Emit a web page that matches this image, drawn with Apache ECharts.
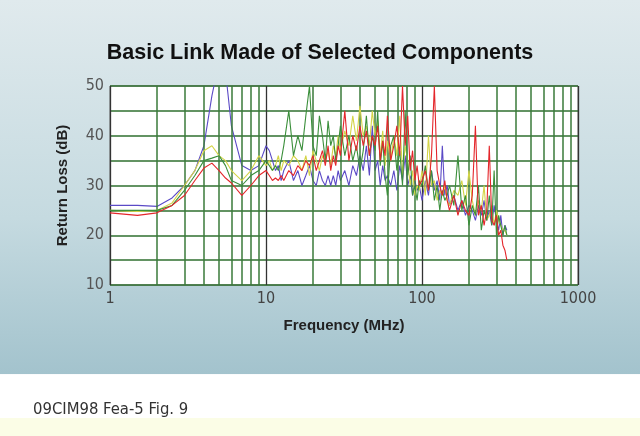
<!DOCTYPE html>
<html><head><meta charset="utf-8">
<script src="https://cdn.jsdelivr.net/npm/echarts@6/dist/echarts.min.js"></script>
<style>html,body{margin:0;padding:0;background:#fff}#c{width:640px;height:436px}</style>
</head><body><div id="c"></div>
<script>
const freq = [1,1.5,2,2.5,3,3.5,4,4.5,5,5.5,6,7,8,9,
  10,10.5,11,11.5,12,12.5,13,14,15,16,
  17,18,19,20,21,22,23,24,25,26,
  27,28,29,30,32,34,36,38,40,42,
  44,46,48,50,52,54,56,58,60,63,
  66,69,72,75,78,81,84,87,90,93,
  96,100,105,110,115,120,125,130,135,140,
  145,150,160,170,180,190,200,210,220,230,
  240,250,260,270,280,290,300,310,320,330,
  340,350];
const blueLoss = [26,26,25.8,27.5,30,33,38,48,55,53,42,34,33,34,
  38,37,35,33,34,31,33,35,31,33,
  30,32,34,31,30,33,31,30,32,30,
  32,30,33,31,33,30,34,32,36,33,
  38,32,42,33,35,30,34,31,32,30,
  33,29,34,31,36,30,32,28,31,29,
  30,27,31,28,33,29,31,27,38,28,
  30,26,28,25,27,24,26,25,23,26,
  24,27,23,25,22,26,23,21,24,20,
  22,21];
const redLoss = [24.5,24,24.5,26,28,31,33.5,34.5,33,31.5,30.5,28,30,32,
  33,32,31,31.5,31,32,31,33,32,34,
  33,35,34,36,33,35,37,34,38,33,
  36,34,38,36,45,35,40,37,42,38,
  41,36,40,38,42,35,39,36,44,35,
  38,42,36,50,38,44,33,37,31,34,
  30,31,33,29,36,50,33,30,28,31,
  27,25,28,24,27,25,24,28,42,24,
  26,22,25,38,23,22,24,20,21,18,
  17,15];
const greenLoss = [25,25,25,26,29,32,35,35.5,36,34,31,30,32,33,
  35,34,33,34,33,35,38,45,36,40,
  37,44,50,38,36,44,40,35,43,38,
  40,35,38,42,36,40,35,38,33,37,
  44,36,40,37,45,34,39,32,28,38,
  40,33,37,30,45,32,36,28,30,27,
  31,30,34,29,33,27,30,25,29,27,
  28,30,26,36,25,28,22,26,24,30,
  21,25,23,28,22,33,20,24,22,20,
  22,20];
const yellowLoss = [25,24.8,25,26.5,30,33,37,38,36,35,33,31,33,36,
  34,35,33,34,36,33,35,34,36,35,
  33,36,32,37,35,33,36,35,37,34,
  38,36,40,37,41,38,44,39,46,40,
  42,38,45,40,43,36,41,34,39,35,
  40,36,44,32,38,35,30,33,28,30,
  29,33,28,40,30,31,27,29,28,30,
  27,26,29,28,31,26,33,27,24,27,
  25,30,23,24,26,22,25,23,22,21,
  21,20];
const minorGrid = [2,3,4,5,6,7,8,9,20,30,40,50,60,70,80,90,200,300,400,500,600,700,800,900];
const yTickLabels = [10,20,30,40,50];

const chart = echarts.init(document.getElementById('c'));
function mk(vals){ return freq.map((f,i)=>[f, vals[i]]); }
const lineSeries = (name, vals, color, extra) => Object.assign({
  name, type:'line', data: mk(vals), showSymbol:false, symbol:'none',
  lineStyle:{color, width:1.1}, itemStyle:{color}, clip:true, z:5
}, extra||{});
const tickFont = '"DejaVu Sans Condensed", sans-serif';

chart.setOption({
  animation:false,
  backgroundColor:{type:'linear',x:0,y:0,x2:0,y2:1,colorStops:[
    {offset:0,color:'#e0eaed'},{offset:0.5,color:'#c5dae0'},{offset:0.858,color:'#a3c3cd'},
    {offset:0.859,color:'#ffffff'},{offset:0.958,color:'#ffffff'},{offset:0.959,color:'#fbfde6'},{offset:1,color:'#fbfde6'}]},
  title:[
    {text:'Basic Link Made of Selected Components', left:'center', top:37,
     textStyle:{fontFamily:'Liberation Sans, Arial, sans-serif', fontWeight:'bold', fontSize:21.5, color:'#111'}},
    {text:'09CIM98 Fea-5 Fig. 9', left:28, top:396,
     textStyle:{fontFamily:tickFont, fontWeight:'normal', fontSize:16.5, color:'#333'}}
  ],
  grid:{left:110, right:62, top:86, bottom:151, show:true, backgroundColor:'#ffffff', borderColor:'#666', borderWidth:1},
  xAxis:{type:'log', logBase:10, min:1, max:1000,
    name:'Frequency (MHz)', nameLocation:'middle', nameGap:33,
    nameTextStyle:{fontFamily:'Liberation Sans, Arial, sans-serif', fontWeight:'bold', fontSize:15, color:'#222'},
    axisLine:{show:false}, axisTick:{show:false},
    axisLabel:{fontFamily:tickFont, fontSize:16, color:'#444', margin:6, formatter:v=>String(v)},
    splitLine:{show:true, lineStyle:{color:'#333', width:1.3}}},
  yAxis:{type:'value', min:10, max:50, interval:5,
    name:'Return Loss (dB)', nameLocation:'middle', nameGap:40,
    nameTextStyle:{fontFamily:'Liberation Sans, Arial, sans-serif', fontWeight:'bold', fontSize:15, color:'#222'},
    axisLine:{show:false}, axisTick:{show:false},
    axisLabel:{fontFamily:tickFont, fontSize:16, color:'#555', margin:6,
      formatter:v=> yTickLabels.indexOf(v)>=0 ? String(v) : ''},
    splitLine:{show:true, lineStyle:{color:'#2f6f2f', width:1.5}}},
  series:[
    lineSeries('Blue', blueLoss, '#5b4ac6', {
      markLine:{silent:true, symbol:['none','none'], label:{show:false}, animation:false,
        lineStyle:{type:'solid', color:'#3a7a3a', width:1.5},
        data: minorGrid.map(v=>({xAxis:v}))}, z:3}),
    lineSeries('Yellow', yellowLoss, '#d4d447'),
    lineSeries('Green', greenLoss, '#3b8f3b'),
    lineSeries('Red', redLoss, '#e4262b')
  ]
});
</script></body></html>
